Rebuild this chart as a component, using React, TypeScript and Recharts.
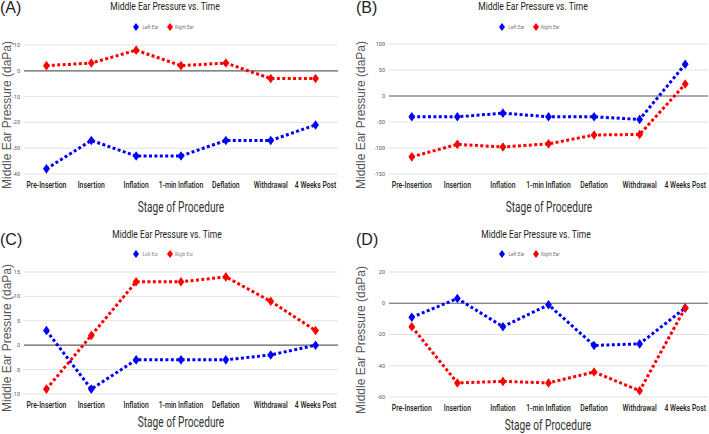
import { LineChart, Line, XAxis, YAxis, CartesianGrid, ReferenceLine, Legend } from 'recharts';

const stages = ['Pre-Insertion', 'Insertion', 'Inflation', '1-min Inflation', 'Deflation', 'Withdrawal', '4 Weeks Post'];

const leftA = [-38, -27, -33, -33, -27, -27, -21];
const rightA = [2, 3, 8, 2, 3, -3, -3];
const leftB = [-40, -40, -33, -40, -40, -45, 61];
const rightB = [-117, -93, -98, -92, -75, -74, 23];
const leftC = [3, -9, -3, -3, -3, -2, 0];
const rightC = [-9, 2, 13, 13, 14, 9, 3];
const leftD = [-9, 3, -15, -1, -27, -26, -3];
const rightD = [-15, -51, -50, -51, -44, -56, -3];

const ticksA = [-40, -30, -20, -10, 0, 10];
const ticksB = [-150, -100, -50, 0, 50, 100];
const ticksC = [-10, -5, 0, 5, 10, 15];
const ticksD = [-60, -40, -20, 0, 20];

const chartTitle = 'Middle Ear Pressure vs. Time';
const xTitle = 'Stage of Procedure';
const yTitle = 'Middle Ear Pressure (daPa)';

const BLUE = '#0000ff';
const RED = '#ff0000';

const build = (left: number[], right: number[]) =>
  stages.map((s, i) => ({ stage: s, left: left[i], right: right[i] }));

function Diamond(props: any) {
  const { cx, cy, fill } = props;
  if (cx == null || cy == null) return null;
  return <polygon points={`${cx},${cy - 4.8} ${cx + 3.4},${cy} ${cx},${cy + 4.8} ${cx - 3.4},${cy}`} fill={fill} />;
}

function StageTick({ x, y, payload }: any) {
  return (
    <g transform={`translate(${x},${y + 11})`}>
      <text transform="scale(0.72,1)" textAnchor="middle" dominantBaseline="central" fontSize={9.5} fontWeight={500} fill="#222">
        {payload.value}
      </text>
    </g>
  );
}

function EarLegend({ serif }: { serif?: boolean }) {
  const ff = serif ? 'Liberation Serif' : 'Roboto';
  return (
    <svg width={80} height={10} style={{ display: 'block' }}>
      <polygon points="4,1 7,5 4,9 1,5" fill={BLUE} />
      <text transform="translate(10.5,5) scale(0.78,1)" dominantBaseline="central" fontSize={6} fill="#777" fontFamily={ff}>Left Ear</text>
      <polygon points="38,1 41,5 38,9 35,5" fill={RED} />
      <text transform="translate(43,5) scale(0.78,1)" dominantBaseline="central" fontSize={6} fill="#777" fontFamily={ff}>Right Ear</text>
    </svg>
  );
}

type Panel = {
  letter: string;
  x: number;
  y: number;
  w: number;
  h: number;
  plot: { l: number; r: number; t: number; b: number };
  left: number[];
  right: number[];
  ticks: number[];
  legendLeft: number;
  legendTop: number;
  serifLegend?: boolean;
  titleX: number;
  titleY: number;
  xTitleX: number;
  xTitleY: number;
  yTitleY: number;
};

const panels: Panel[] = [
  { letter: '(A)', x: 0, y: 0, w: 354, h: 217, plot: { l: 24, r: 338, t: 45, b: 174 }, left: leftA, right: rightA, ticks: ticksA, legendLeft: 132, legendTop: 22, titleX: 165, titleY: 6, xTitleX: 181, xTitleY: 207, yTitleY: 115 },
  { letter: '(B)', x: 354, y: 0, w: 355, h: 217, plot: { l: 35, r: 354, t: 44, b: 174 }, left: leftB, right: rightB, ticks: ticksB, legendLeft: 144, legendTop: 22, titleX: 179, titleY: 6, xTitleX: 195, xTitleY: 207, yTitleY: 115 },
  { letter: '(C)', x: 0, y: 217, w: 354, h: 217, plot: { l: 24, r: 338, t: 55, b: 177 }, left: leftC, right: rightC, ticks: ticksC, legendLeft: 132, legendTop: 32, serifLegend: true, titleX: 167, titleY: 17, xTitleX: 181, xTitleY: 205, yTitleY: 121 },
  { letter: '(D)', x: 354, y: 217, w: 355, h: 217, plot: { l: 35, r: 354, t: 55, b: 180 }, left: leftD, right: rightD, ticks: ticksD, legendLeft: 144, legendTop: 32, titleX: 182, titleY: 17, xTitleX: 194, xTitleY: 208, yTitleY: 123 },
];

function PanelChart({ p }: { p: Panel }) {
  const data = build(p.left, p.right);
  const pw = p.plot.r - p.plot.l;
  const pad = pw / 14;
  const xAxisH = 20;
  const lo = p.ticks[0];
  const hi = p.ticks[p.ticks.length - 1];
  return (
    <div style={{ position: 'absolute', left: p.x, top: p.y, width: p.w, height: p.h }}>
      <LineChart
        width={p.w}
        height={p.h}
        data={data}
        margin={{ top: p.plot.t, bottom: p.h - p.plot.b - xAxisH, left: 0, right: p.w - p.plot.r }}
      >
        <CartesianGrid vertical={false} stroke="#e3e3e3" />
        <XAxis
          dataKey="stage"
          height={xAxisH}
          axisLine={false}
          tickLine={false}
          tickSize={0}
          tickMargin={0}
          interval={0}
          padding={{ left: pad, right: pad }}
          tick={<StageTick />}
        />
        <YAxis
          width={p.plot.l}
          domain={[lo, hi]}
          ticks={p.ticks}
          axisLine={false}
          tickLine={false}
          tickSize={0}
          tickMargin={4}
          tick={{ fontSize: 5.5, fill: '#555' }}
        />
        <ReferenceLine y={0} stroke="#666" strokeWidth={1.2} />
        <Legend
          layout="horizontal"
          verticalAlign="middle"
          align="center"
          wrapperStyle={{ top: p.legendTop, left: p.legendLeft, width: 80, height: 10 }}
          content={() => <EarLegend serif={p.serifLegend} />}
        />
        <Line
          dataKey="left"
          name="Left Ear"
          stroke={BLUE}
          strokeWidth={3}
          strokeDasharray="3 2.4"
          fill={BLUE}
          dot={<Diamond fill={BLUE} />}
          activeDot={false}
          isAnimationActive={false}
        />
        <Line
          dataKey="right"
          name="Right Ear"
          stroke={RED}
          strokeWidth={3}
          strokeDasharray="3 2.4"
          fill={RED}
          dot={<Diamond fill={RED} />}
          activeDot={false}
          isAnimationActive={false}
        />
      </LineChart>
      <svg width={p.w} height={p.h} style={{ position: 'absolute', left: 0, top: 0, pointerEvents: 'none' }}>
        <text x={p.x === 0 ? 0 : 2} y={p.y === 0 ? 7 : 22} dominantBaseline="central" fontSize={16} fill="#222" fontFamily="Liberation Sans">
          {p.letter}
        </text>
        <g transform={`translate(${p.titleX},${p.titleY})`}>
          <text transform="scale(0.74,1)" textAnchor="middle" dominantBaseline="central" fontSize={11.5} fill="#222">
            {chartTitle}
          </text>
        </g>
        <g transform={`translate(${p.xTitleX},${p.xTitleY})`}>
          <text transform="scale(0.7,1)" textAnchor="middle" dominantBaseline="central" fontSize={14.5} fill="#333">
            {xTitle}
          </text>
        </g>
        <text
          transform={`translate(7,${p.yTitleY}) rotate(-90)`}
          textAnchor="middle"
          dominantBaseline="central"
          fontSize={12}
          fill="#555"
          fontFamily="Liberation Sans"
        >
          {yTitle}
        </text>
      </svg>
    </div>
  );
}

export default function App() {
  return (
    <div style={{ position: 'absolute', left: 0, top: 0, width: 709, height: 434, background: '#fff', fontFamily: 'Roboto' }}>
      {panels.map((p) => (
        <PanelChart key={p.letter} p={p} />
      ))}
    </div>
  );
}
